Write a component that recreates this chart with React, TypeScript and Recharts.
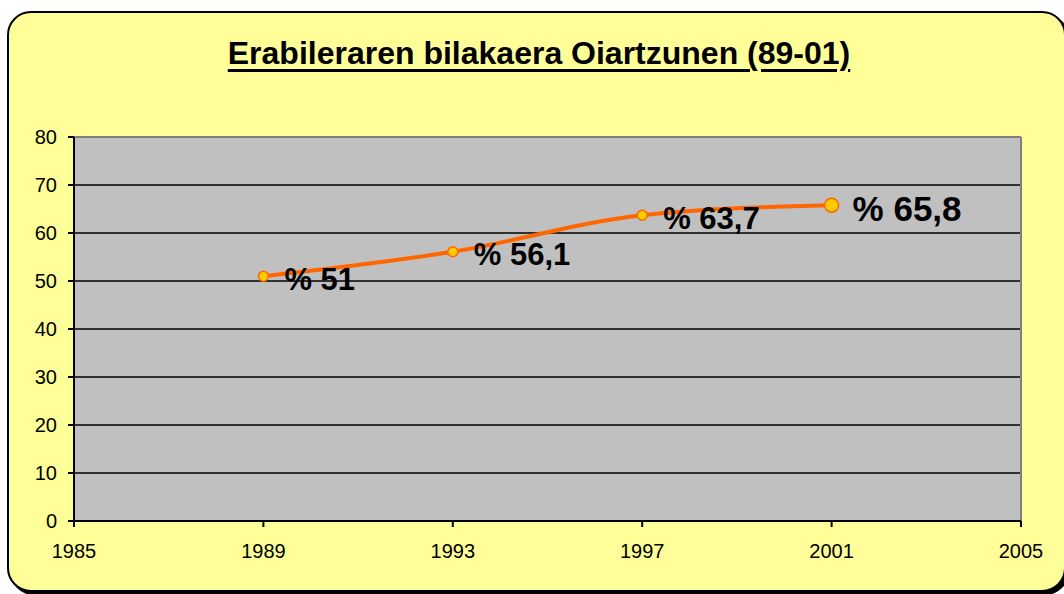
import { LineChart, Line, XAxis, YAxis, CartesianGrid, ReferenceLine, LabelList } from "recharts"

const title = "Erabileraren bilakaera Oiartzunen (89-01)"
const years = [1989, 1993, 1997, 2001]
const usage = [51, 56.1, 63.7, 65.8]
const xTicks = [1985, 1989, 1993, 1997, 2001, 2005]
const yTicks = [0, 10, 20, 30, 40, 50, 60, 70, 80]

const data = years.map((year, i) => ({ year, value: usage[i] }))
const lastIndex = data.length - 1
const font = 'Arial, "Liberation Sans", sans-serif'

function formatPct(v: number): string {
  return `% ${String(v).replace(".", ",")}`
}

function renderDot(props: any) {
  const { cx, cy, index } = props
  const big = index === lastIndex
  return (
    <circle
      key={`dot-${index}`}
      cx={cx}
      cy={cy}
      r={big ? 7 : 5}
      fill="#FFCC00"
      stroke="#FF6600"
      strokeWidth={1.5}
    />
  )
}

function renderLabel(props: any) {
  const { x, y, value, index } = props
  const big = index === lastIndex
  return (
    <text
      key={`lbl-${index}`}
      x={x + 21}
      y={y + 3}
      dominantBaseline="central"
      fontFamily={font}
      fontWeight="bold"
      fontSize={big ? 35 : 31}
      fill="#000"
    >
      {formatPct(value)}
    </text>
  )
}

export default function App() {
  return (
    <div
      style={{
        position: "fixed",
        left: 0,
        top: 0,
        width: 1064,
        height: 594,
        overflow: "hidden",
        background: "#fff",
        fontFamily: font,
      }}
    >
      <div
        style={{
          position: "absolute",
          left: 7,
          top: 11,
          width: 1055,
          height: 577,
          background: "#FFFF99",
          border: "2px solid #000",
          borderRadius: 24,
          boxShadow: "3px 3px 0 #000",
        }}
      />
      <div
        style={{
          position: "absolute",
          left: 0,
          top: 37,
          width: 1078,
          textAlign: "center",
          fontSize: 32,
          lineHeight: "32px",
          fontWeight: "bold",
          textDecoration: "underline",
          textDecorationThickness: 3,
          textUnderlineOffset: 5,
          color: "#000",
        }}
      >
        {title}
      </div>
      <div style={{ position: "absolute", left: 0, top: 0 }}>
        <LineChart
          width={1064}
          height={594}
          data={data}
          margin={{ top: 137, right: 43, bottom: 33, left: 14 }}
        >
          <CartesianGrid
            fill="#C0C0C0"
            vertical={false}
            stroke="#000"
            strokeWidth={1.5}
            horizontalValues={yTicks.filter((t) => t > 0 && t < 80)}
          />
          <ReferenceLine y={80} stroke="#808080" strokeWidth={2} />
          <ReferenceLine x={2005} stroke="#808080" strokeWidth={2} />
          <XAxis
            dataKey="year"
            type="number"
            domain={[1985, 2005]}
            ticks={xTicks}
            height={40}
            tickMargin={17}
            axisLine={{ stroke: "#000", strokeWidth: 2 }}
            tickLine={{ stroke: "#000", strokeWidth: 2 }}
            tick={{ fill: "#000", fontSize: 20, fontFamily: font }}
          />
          <YAxis
            type="number"
            domain={[0, 80]}
            ticks={yTicks}
            width={60}
            tickMargin={11}
            axisLine={{ stroke: "#000", strokeWidth: 2 }}
            tickLine={{ stroke: "#000", strokeWidth: 2 }}
            tick={{ fill: "#000", fontSize: 20, fontFamily: font }}
          />
          <Line
            type="monotone"
            dataKey="value"
            stroke="#FF6600"
            strokeWidth={4}
            dot={renderDot}
            activeDot={false}
            isAnimationActive={false}
          >
            <LabelList dataKey="value" content={renderLabel} />
          </Line>
        </LineChart>
      </div>
    </div>
  )
}
